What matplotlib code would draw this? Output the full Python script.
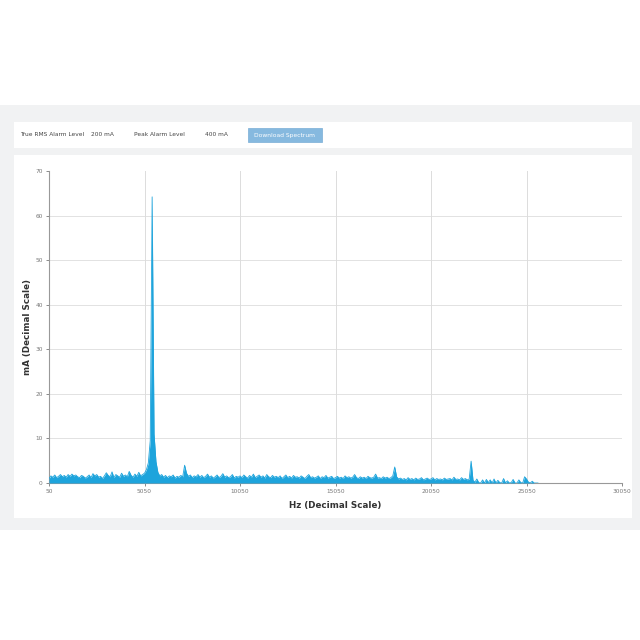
import numpy as np
import matplotlib.pyplot as plt
from matplotlib.patches import Rectangle

# spectrum samples every 100 Hz starting at 50 Hz (mA)
FREQ_START = 50
FREQ_STEP = 100
AMPLITUDE = [
    1.0, 1.6, 1.3, 1.8, 1.2, 1.5, 1.9, 1.4, 1.7, 1.3,
    1.9, 1.5, 2.0, 1.6, 1.8, 1.4, 1.2, 1.7, 1.5, 1.1,
    1.4, 1.8, 1.2, 2.1, 1.6, 1.9, 1.3, 1.5, 1.0, 1.6,
    2.3, 1.7, 1.4, 2.5, 1.2, 1.9, 1.6, 1.3, 2.2, 1.5,
    1.8, 1.4, 2.6, 1.7, 1.3, 2.0, 1.5, 2.4, 1.6, 1.9,
    2.2, 3.0, 4.5, 9.5, 64.2, 11.0, 4.8, 2.4, 1.6, 1.9,
    1.3, 1.7, 1.2, 1.6, 1.4, 1.8, 1.1, 1.5, 1.3, 1.7,
    1.4, 4.0, 2.2, 1.5, 1.8, 1.2, 1.6, 1.4, 1.9, 1.3,
    1.7, 1.2, 1.5, 2.0, 1.3, 1.6, 1.1, 1.4, 1.8, 1.2,
    1.5, 2.1, 1.3, 1.6, 1.2, 1.4, 1.9, 1.1, 1.5, 1.3,
    1.6, 1.2, 1.8, 1.4, 1.1, 1.7, 1.3, 2.0, 1.2, 1.5,
    1.8, 1.3, 1.6, 1.1, 1.9, 1.4, 1.2, 1.7, 1.3, 1.5,
    1.2, 1.6, 1.0, 1.4, 1.8, 1.2, 1.5, 1.1, 1.7, 1.3,
    1.4, 1.1, 1.6, 1.3, 1.0, 1.5, 1.9, 1.2, 1.4, 1.1,
    1.3, 1.6, 1.0, 1.4, 1.2, 1.7, 1.1, 1.3, 1.5, 1.0,
    1.2, 1.5, 1.1, 1.3, 1.0, 1.6, 1.2, 1.4, 1.1, 1.3,
    1.9, 1.2, 1.0, 1.4, 1.1, 1.3, 1.0, 1.5, 1.2, 1.1,
    1.3, 2.0, 1.1, 1.2, 1.0, 1.4, 1.1, 1.3, 1.0, 1.2,
    1.6, 3.6, 1.4, 0.9, 1.1, 0.8, 1.0, 0.7, 1.2, 0.8,
    1.0, 0.7, 1.1, 0.8, 0.9, 1.2, 0.7, 0.9, 1.1, 0.8,
    0.9, 1.2, 0.7, 1.0, 0.8, 0.9, 0.7, 1.1, 0.8, 0.9,
    1.0, 0.7, 1.3, 0.8, 0.9, 0.7, 1.2, 0.8, 1.0, 0.7,
    0.9, 4.9, 0.6, 0.2, 0.9, 0.1, 0.0, 0.7, 0.0, 0.8,
    0.1, 0.7, 0.0, 0.9, 0.0, 0.6, 0.1, 0.0, 1.0, 0.0,
    0.5, 0.0, 0.1, 0.8, 0.0, 0.0, 0.7, 0.1, 0.0, 1.4,
    0.9, 0.2, 0.0, 0.4, 0.0, 0.0, 0.0,
]
X_TICKS = [50, 5050, 10050, 15050, 20050, 25050, 30050]
Y_TICKS = [0, 10, 20, 30, 40, 50, 60, 70]

HEADER_ITEMS = [
    ("True RMS Alarm Level", 20),
    ("200 mA", 91),
    ("Peak Alarm Level", 134),
    ("400 mA", 205),
]

BLUE = "#1ea4dc"
W, H = 640, 640


def px(x, y):
    # pixel coords (top-left origin) -> figure fraction
    return x / W, 1 - y / H


fig = plt.figure(figsize=(6.4, 6.4), dpi=100)
fig.patch.set_facecolor("white")

# page background band and cards
fig.patches.append(Rectangle(px(0, 530), 1, 425 / H, transform=fig.transFigure,
                             facecolor="#f1f2f3", edgecolor="none", zorder=-3))
fig.patches.append(Rectangle(px(14, 148), 618 / W, 26 / H, transform=fig.transFigure,
                             facecolor="white", edgecolor="none", zorder=-2))
fig.patches.append(Rectangle(px(14, 518), 618 / W, 363 / H, transform=fig.transFigure,
                             facecolor="white", edgecolor="none", zorder=-2))

for label, xp in HEADER_ITEMS:
    fx, fy = px(xp, 134)
    fig.text(fx, fy, label, fontsize=4.2, color="#444444", va="center", ha="left")

# download button
fig.patches.append(Rectangle(px(248, 142), 74 / W, 14 / H, transform=fig.transFigure,
                             facecolor="#86b9df", edgecolor="#7aaed6", lw=0.5, zorder=-1))
bx, by = px(285, 135)
fig.text(bx, by, "Download Spectrum", fontsize=4.3, color="white",
         ha="center", va="center", zorder=3)

# plot area
left, top = px(49, 171)
_, bottom = px(49, 483)
right = 622 / W
ax = fig.add_axes([left, bottom, right - left, top - bottom])
ax.set_zorder(5)
ax.patch.set_alpha(0)

freqs = FREQ_START + FREQ_STEP * np.arange(len(AMPLITUDE))
amps = np.array(AMPLITUDE)
ax.fill_between(freqs, 0, amps, color=BLUE, lw=0, zorder=3)
ax.plot(freqs, amps, color=BLUE, lw=0.6, zorder=3)

ax.set_xlim(50, 30050)
ax.set_ylim(0, 70)
ax.set_xticks(X_TICKS)
ax.set_yticks(Y_TICKS)
ax.tick_params(axis="both", labelsize=4.2, colors="#777777", length=2.5,
               width=0.6, pad=2)

for v in Y_TICKS[1:-1]:
    ax.axhline(v, color="#e2e2e2", lw=0.7, zorder=1)
for v in X_TICKS[1:-1]:
    ax.axvline(v, color="#dcdcdc", lw=0.7, zorder=1)

for s in ("top", "right"):
    ax.spines[s].set_visible(False)
for s in ("left", "bottom"):
    ax.spines[s].set_color("#999999")
    ax.spines[s].set_linewidth(0.8)

ax.set_xlabel("Hz (Decimal Scale)", fontsize=6.3, fontweight="bold",
              color="#333333", labelpad=5)
ax.set_ylabel("mA (Decimal Scale)", fontsize=6.3, fontweight="bold",
              color="#333333", labelpad=2)

fig.savefig("out.png", dpi=100)
